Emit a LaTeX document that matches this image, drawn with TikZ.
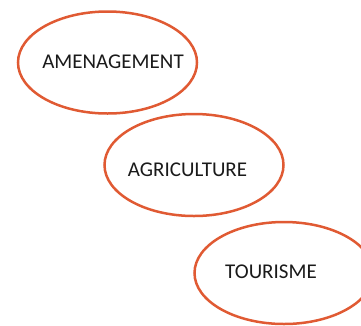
\documentclass[tikz,border=0pt]{standalone}
\usepackage{fontspec}
\setmainfont{Carlito}
\usetikzlibrary{shapes.geometric}
\definecolor{ringred}{HTML}{E05A33}
\definecolor{txt}{HTML}{1A1A1A}
\begin{document}
\begin{tikzpicture}[x=1pt,y=-1pt,
  ring/.style={ellipse,draw=ringred,line width=2.5pt,minimum width=179pt,minimum height=102pt,inner sep=0pt},
  lbl/.style={font=\fontsize{21pt}{25pt}\selectfont,text=txt,inner sep=0pt}]
\useasboundingbox (0,0) rectangle (361,325);
\node[ring] (e1) at (107.5,62.5) {};
\node[ring] (e2) at (194,165) {};
\node[ring] (e3) at (284,273) {};
\node[lbl] (t1) at (113,62) {AMENAGEMENT};
\node[lbl] (t2) at (187.5,170) {AGRICULTURE};
\node[lbl] (t3) at (271,272) {TOURISME};
\end{tikzpicture}
\end{document}
